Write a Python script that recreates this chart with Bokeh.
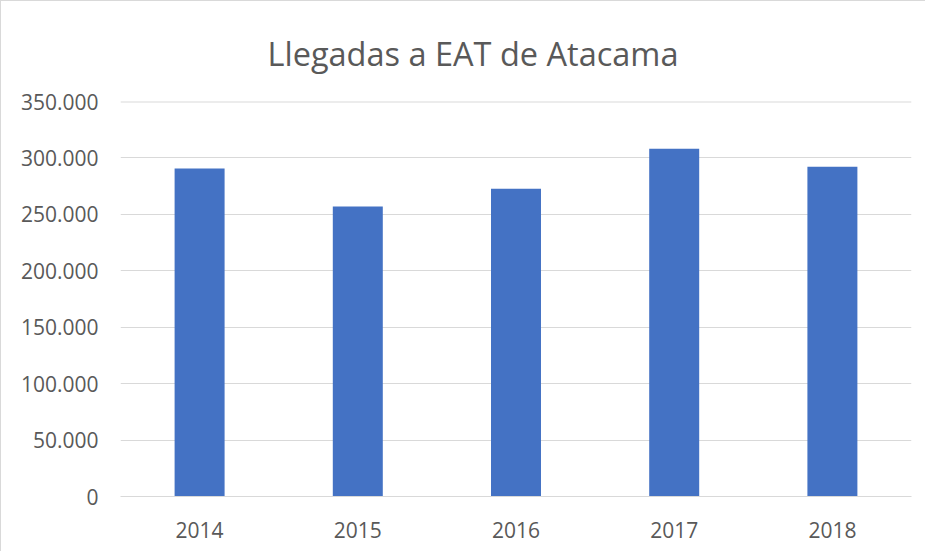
from bokeh.plotting import figure
from bokeh.models import FixedTicker, Range1d, FactorRange, Span
from bokeh.embed import file_html
from bokeh.resources import INLINE

years = ["2014", "2015", "2016", "2017", "2018"]
llegadas = [290700, 257000, 272600, 308100, 292100]
y_ticks = [0, 50000, 100000, 150000, 200000, 250000, 300000, 350000]
y_tick_labels = ["0", "50.000", "100.000", "150.000", "200.000", "250.000", "300.000", "350.000"]
title_text = "Llegadas a EAT de Atacama"

FONT = "Open Sans"
TXT = "#595959"
GRID = "#d9d9d9"

p = figure(
    x_range=FactorRange(*years, range_padding=0),
    y_range=Range1d(y_ticks[0], y_ticks[-1]),
    width=925, height=551,
    output_backend="svg", toolbar_location=None,
    min_border_left=119, min_border_right=15,
    min_border_top=100, min_border_bottom=56,
    title=title_text,
)
p.styles = {"border-left": "1px solid #d9d9d9", "border-top": "1px solid #d9d9d9"}

p.vbar(x=years, top=llegadas, width=0.316, color="#4472C4", line_color=None)

# top gridline (Bokeh skips grid lines at the range ends)
p.add_layout(Span(location=y_ticks[-1], dimension="width", line_color=GRID, line_width=2))

p.title.text_font = FONT
p.title.text_font_size = "32.5px"
p.title.text_font_style = "normal"
p.title.text_color = TXT
p.title.align = "left"
p.title.offset = 147
p.title.standoff = 51

p.outline_line_color = None
p.xgrid.grid_line_color = None
p.ygrid.grid_line_color = GRID
p.ygrid.grid_line_width = 1

p.yaxis.ticker = FixedTicker(ticks=y_ticks)
p.yaxis.major_label_overrides = {t: l for t, l in zip(y_ticks, y_tick_labels)}
p.yaxis.axis_line_color = None
p.yaxis.major_tick_line_color = None
p.yaxis.minor_tick_line_color = None
p.yaxis.major_label_standoff = 16

p.xaxis.axis_line_color = GRID
p.xaxis.axis_line_width = 1
p.xaxis.major_tick_line_color = None
p.xaxis.minor_tick_line_color = None
p.xaxis.major_label_standoff = 19

for ax in (p.xaxis, p.yaxis):
    ax.major_label_text_font = FONT
    ax.major_label_text_font_size = "21px"
    ax.major_label_text_color = TXT

open("out.html", "w").write(file_html(p, INLINE))
